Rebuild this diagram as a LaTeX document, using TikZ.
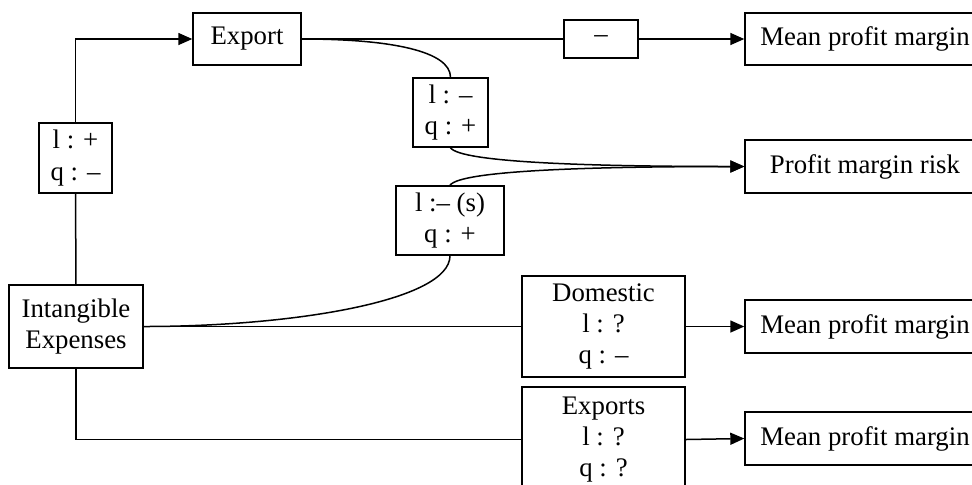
\documentclass[tikz,border=0pt]{standalone}
\usepackage{fontspec}
\setmainfont{Liberation Serif}
\usetikzlibrary{arrows.meta}
\begin{document}
\begin{tikzpicture}[x=0.5pt,y=-0.5pt,
  box/.style={draw,line width=0.7pt,inner sep=0pt,align=center,font=\fontsize{13.4}{15.7}\selectfont},
  conn/.style={line width=0.75pt},
  arr/.style={conn,-{Triangle[length=7pt,width=6pt]}}]
\useasboundingbox (0,0) rectangle (972,484);
\clip (0,0) rectangle (972,484);
\node[box,minimum width=54pt,minimum height=26pt] (export) at (247,39) {Export};
\node[box,minimum width=36.5pt,minimum height=35pt] (lq1) at (75.5,158) {l : +\\q : –};
\node[box,minimum width=67pt,minimum height=41.5pt] (intang) at (76,326.5) {Intangible\\Expenses};
\node[box,minimum width=37pt,minimum height=19pt] (minus) at (601,39) {–};
\node[box,minimum width=37.5pt,minimum height=34.5pt] (lq2) at (450.5,112.5) {l : –\\q : +};
\node[box,minimum width=54pt,minimum height=34.5pt] (lq3) at (450,220.5) {l :– (s)\\q : +};
\node[box,minimum width=81.5pt,minimum height=50.5pt] (dom) at (603.5,326.5) {Domestic\\l : ?\\q : –};
\node[box,minimum width=81.5pt,minimum height=52.5pt] (exps) at (603.5,439.5) {Exports\\l : ?\\q : ?};
\node[box,minimum width=120pt,minimum height=26pt] (mpm1) at (865,39) {Mean profit margin};
\node[box,minimum width=120pt,minimum height=26.5pt] (pmr) at (865,166.5) {Profit margin risk};
\node[box,minimum width=120pt,minimum height=26.5pt] (mpm2) at (865,326.5) {Mean profit margin};
\node[box,minimum width=120pt,minimum height=26.5pt] (mpm3) at (865,438.5) {Mean profit margin};
\draw[conn] (intang.north) -- (lq1.south);
\draw[arr] (lq1.north) |- (export.west);
\draw[conn] (export.east) -- (minus.west);
\draw[arr] (minus.east) -- (mpm1.west);
\draw[conn] (export.east) .. controls +(90,0) and +(0,-26) .. (lq2.north);
\draw[arr] (lq2.south) .. controls +(10,15) and +(-150,0) .. (pmr.west);
\draw[arr] (lq3.north) .. controls +(10,-15) and +(-150,0) .. (pmr.west);
\draw[conn] (lq3.south) .. controls +(0,45) and +(150,0) .. (intang.east);
\draw[conn] (intang.east) -- (dom.west);
\draw[arr] (dom.east) -- (mpm2.west);
\draw[conn] (intang.south) |- (exps.west);
\draw[arr] (exps.east) -- (mpm3.west);
\end{tikzpicture}
\end{document}
